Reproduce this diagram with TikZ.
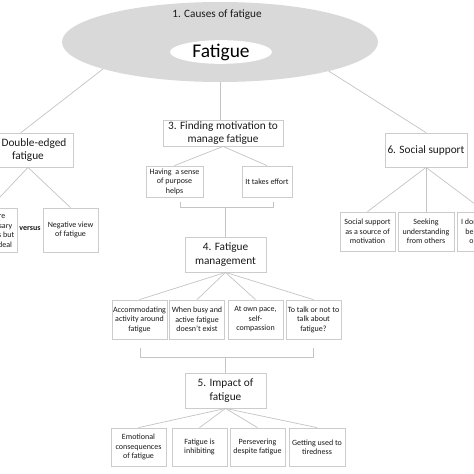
\documentclass[tikz,border=0pt]{standalone}
\usepackage{fontspec}
\setmainfont{Carlito}
\usetikzlibrary{shapes.geometric}
\definecolor{boxline}{HTML}{CCCCCC}
\definecolor{conn}{HTML}{C4C4C4}
\definecolor{ellfill}{HTML}{D9D9D9}
\definecolor{txt}{HTML}{1A1A1A}
\tikzset{
  headbox/.style={draw=boxline, line width=0.8pt, fill=white, inner sep=0pt, align=center,
    text=txt, font=\fontsize{11.3}{13.5}\selectfont},
  smallbox/.style={draw=boxline, line width=0.8pt, fill=white, inner sep=0pt, align=center,
    text=txt, minimum width=55pt, font=\fontsize{8}{9.5}\selectfont},
  conn/.style={draw=conn, line width=0.7pt},
}
\begin{document}
\begin{tikzpicture}[x=1pt,y=-1pt]
\clip (0,0) rectangle (474,474);
\fill[white] (0,0) rectangle (474,474);
% central ellipse
\node[ellipse, fill=ellfill, minimum width=316pt, minimum height=80pt, inner sep=0pt] (ell) at (220,42) {};
\node[text=txt, font=\fontsize{11.2}{13}\selectfont] (causes) at (217,15) {1. Causes of fatigue};
\node[ellipse, fill=white, minimum width=102pt, minimum height=22pt, inner sep=0pt,
      text=black, font=\fontsize{19.4}{22}\selectfont] (fat) at (221,52) {Fatigue};
% level 1 boxes
\node[headbox, minimum width=90pt, minimum height=34pt] (b2) at (28,150) {2. Double-edged\\fatigue};
\node[headbox, minimum width=120pt, minimum height=26pt] (b3) at (223,133) {3. Finding motivation to\\manage fatigue};
\node[headbox, minimum width=82pt, minimum height=34pt] (b6) at (426,150) {6. Social support};
\node[headbox, minimum width=81pt, minimum height=35pt] (b4) at (225.5,254.5) {4. Fatigue\\management};
\node[headbox, minimum width=81pt, minimum height=35pt] (b5) at (225.5,390.5) {5. Impact of\\fatigue};
% box 2 children
\node[smallbox, minimum height=44pt] (b2a) at (-10,230) {It is there\\is a necessary\\sometimes but\\far from ideal};
\node[smallbox, minimum height=44pt] (b2b) at (70.5,230) {Negative view\\of fatigue};
\node[text=txt, font=\fontsize{8}{9.5}\selectfont\bfseries] (vs) at (30,229) {versus};
% box 3 children
\node[smallbox, minimum width=57pt, minimum height=31pt] (b3a) at (174.5,181.5) {Having~ a sense\\of purpose\\helps};
\node[smallbox, minimum width=50pt, minimum height=31pt] (b3b) at (267,181.5) {It takes effort};
% box 4 children
\node[smallbox, minimum height=39pt] (b4a) at (139.5,319.5) {Accommodating\\activity around\\fatigue};
\node[smallbox, minimum height=39pt] (b4b) at (197,319.5) {When busy and\\active fatigue\\doesn't exist};
\node[smallbox, minimum height=39pt] (b4c) at (255.5,319.5) {At own pace,\\self-\\compassion};
\node[smallbox, minimum height=39pt] (b4d) at (313.5,319.5) {To talk or not to\\talk about\\fatigue?};
% box 5 children
\node[smallbox, minimum height=38pt] (b5a) at (138.5,447) {Emotional\\consequences\\of fatigue};
\node[smallbox, minimum height=38pt] (b5b) at (199.5,447) {Fatigue is\\inhibiting};
\node[smallbox, minimum height=38pt] (b5c) at (257.5,447) {Persevering\\despite fatigue};
\node[smallbox, minimum width=56pt, minimum height=38pt] (b5d) at (317,447) {Getting used to\\tiredness};
% box 6 children
\node[smallbox, minimum height=39pt] (b6a) at (367.5,231.5) {Social support\\as a source of\\motivation};
\node[smallbox, minimum width=56pt, minimum height=39pt] (b6b) at (426,231.5) {Seeking\\understanding\\from others};
\node[smallbox, minimum width=56pt, minimum height=39pt] (b6c) at (485,231.5) {I don't want to\\be a burden\\on others};
% connectors from ellipse
\draw[conn] (ell.193) -- ([xshift=-7pt]b2.north);
\draw[conn] (ell.south) -- (ell.south |- b3.north);
\draw[conn] (ell.345) -- (b6.north);
% box 2
\draw[conn] (b2.south) -- (b2a.north);
\draw[conn] (b2.south) -- (b2b.north);
% box 3
\draw[conn] (b3.south) -- (b3a.north);
\draw[conn] (b3.south) -- (b3b.north);
% bracket 3 -> 4
\coordinate (k1l) at (180,202);
\coordinate (k1r) at (273,202);
\coordinate (k1m) at (225.5,207);
\draw[conn] (k1l) -- (k1l |- k1m) -- (k1r |- k1m) -- (k1r);
\draw[conn] (k1m) -- (b4.north);
% box 4
\foreach \c in {b4a,b4b,b4c,b4d} \draw[conn] (b4.south) -- (\c.north);
% bracket 4 -> 5
\coordinate (k2l) at (140,348);
\coordinate (k2r) at (313,348);
\coordinate (k2m) at (225.5,357);
\draw[conn] (k2l) -- (k2l |- k2m) -- (k2r |- k2m) -- (k2r);
\draw[conn] (k2m) -- (b5.north);
% box 5
\foreach \c in {b5a,b5b,b5c,b5d} \draw[conn] (b5.south) -- (\c.north);
% box 6
\foreach \c in {b6a,b6b,b6c} \draw[conn] (b6.south) -- (\c.north);
\end{tikzpicture}
\end{document}
